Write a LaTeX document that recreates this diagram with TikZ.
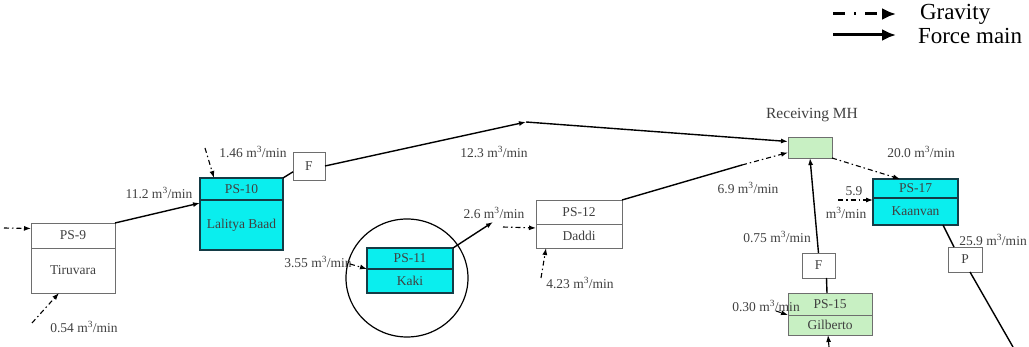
\documentclass[tikz,border=0pt]{standalone}
\usepackage{fontspec}
\setmainfont{Liberation Serif}
\usetikzlibrary{arrows.meta,calc,shapes.geometric}
\definecolor{psCyan}{RGB}{10,238,238}
\definecolor{psGreen}{RGB}{200,240,195}
\definecolor{boxGray}{RGB}{110,110,110}
\definecolor{cyanEdge}{RGB}{20,60,70}
\tikzset{
  every node/.style={inner sep=0pt, outer sep=0pt},
  lbl/.style={font=\fontsize{13.5}{14}\selectfont, text=black!75},
  cell/.style={draw=boxGray, line width=0.9pt, font=\fontsize{13.5}{14}\selectfont, text=black!75, minimum width=#1pt},
  cyancell/.style={cell=#1, fill=psCyan, draw=cyanEdge, line width=1.4pt},
  greencell/.style={cell=#1, fill=psGreen},
  fbox/.style={draw=boxGray, line width=0.9pt, fill=white, font=\fontsize{13.5}{14}\selectfont, text=black!75},
  forcemain/.style={line width=1.4pt, -{Latex[length=7pt,width=5pt]}},
  forceline/.style={line width=1.4pt},
  gravity/.style={line width=1.1pt, dash pattern=on 5pt off 3pt on 1.5pt off 3pt, -{Latex[length=7pt,width=5pt]}},
  legendtext/.style={font=\fontsize{23}{25}\selectfont, anchor=west},
  legendgrav/.style={line width=3pt, dash pattern=on 12pt off 9pt on 2pt off 9pt, -{Latex[length=14pt,width=12pt]}},
  legendforce/.style={line width=3pt, -{Latex[length=14pt,width=12pt]}},
}
\begin{document}
\begin{tikzpicture}[x=1pt,y=-1pt]
\useasboundingbox (0,0) rectangle (1029,347);

% legend
\node[legendtext] (lgg) at (920,14) {Gravity};
\node[legendtext] (lgf) at (918,36) {Force main};
\coordinate (ga1) at (833,14);
\coordinate (fa1) at (833,35);
\draw[legendgrav] (ga1) -- ($(lgg.west)+(-24,0)$);
\draw[legendforce] (fa1) -- ($(lgf.west)+(-22,-1)$);

% boxes
\node[cell=84, minimum height=25pt] (ps9t) at (73,235.5) {PS-9};
\node[cell=84, minimum height=45pt] (ps9b) at (73,270.5) {Tiruvara};
\node[cyancell=83, minimum height=22pt] (ps10t) at (241.5,189) {PS-10};
\node[cyancell=83, minimum height=50pt] (ps10b) at (241.5,225) {Lalitya Baad};
\node[cyancell=86, minimum height=21pt] (ps11t) at (410,258.5) {PS-11};
\node[cyancell=86, minimum height=24pt] (ps11b) at (410,281) {Kaki};
\node[cell=86, minimum height=24pt] (ps12t) at (579,212) {PS-12};
\node[cell=86, minimum height=24pt] (ps12b) at (579,236) {Daddi};
\node[cyancell=85, minimum height=19pt] (ps17t) at (915.5,188.5) {PS-17};
\node[cyancell=85, minimum height=27pt] (ps17b) at (915.5,211.5) {Kaanvan};
\node[greencell=84, minimum height=22pt] (ps15t) at (830,304) {PS-15};
\node[greencell=84, minimum height=20pt] (ps15b) at (830,325) {Gilberto};
\node[greencell=44, minimum height=21pt] (mh) at (810,147.5) {};
\node[fbox, minimum width=32pt, minimum height=28pt] (f1) at (309,166) {F};
\node[fbox, minimum width=33pt, minimum height=25pt] (f2) at (818.5,265.5) {F};
\node[fbox, minimum width=34pt, minimum height=25pt] (p) at (965,259.5) {P};

\node[ellipse, draw, line width=1.2pt, minimum width=122pt, minimum height=118pt] (circ) at (407,278) {};

% labels
\node[lbl, font=\fontsize{15.5}{16}\selectfont] (l1) at (812,115) {Receiving MH};
\node[lbl] (l2) at (159,193) {11.2 m\textsuperscript{3}/min};
\node[lbl] (l3) at (253,152) {1.46 m\textsuperscript{3}/min};
\node[lbl] (l4) at (494,152) {12.3 m\textsuperscript{3}/min};
\node[lbl] (l5) at (84,327) {0.54 m\textsuperscript{3}/min};
\node[lbl] (l6) at (318,262) {3.55 m\textsuperscript{3}/min};
\node[lbl] (l7) at (494,213) {2.6 m\textsuperscript{3}/min};
\node[lbl] (l8) at (580,283) {4.23 m\textsuperscript{3}/min};
\node[lbl] (l9) at (748,188) {6.9 m\textsuperscript{3}/min};
\node[lbl] (l10) at (921,152) {20.0 m\textsuperscript{3}/min};
\node[lbl] (l11a) at (854,191) {5.9};
\node[lbl] (l11b) at (846,213) {m\textsuperscript{3}/min};
\node[lbl] (l12) at (993,240) {25.9 m\textsuperscript{3}/min};
\node[lbl] (l13) at (777,237) {0.75 m\textsuperscript{3}/min};
\node[lbl] (l14) at (766,306) {0.30 m\textsuperscript{3}/min};

% connectors
\coordinate (in9) at (4,228);
\draw[gravity] (in9) -- ($(ps9t.west)+(0,-7)$);
\coordinate (b9) at (32,323);
\draw[gravity] (b9) -- ($(ps9b.south)+(-14,0)$);
\draw[forcemain] (ps9t.north east) -- ($(ps10b.north west)+(0,3)$);
\coordinate (in10) at (205,148);
\draw[gravity] (in10) -- ($(ps10t.north west)+(14,0)$);
\draw[forceline] (ps10t.north east) -- (f1.200);
\coordinate (j1) at (526,122);
\draw[forcemain] (f1.east) -- (j1);
\draw[forcemain] (j1) -- ($(mh.west)+(0,-6)$);
\coordinate (in11) at (350,264);
\draw[gravity] (in11) -- (ps11t.south west);
\coordinate (k1) at (493,222);
\draw[forcemain] (ps11t.north east) -- (k1);
\coordinate (k2) at (503,227);
\draw[gravity] (k2) -- ($(ps12b.north west)+(0,4)$);
\coordinate (b12) at (541,278);
\draw[gravity] (b12) -- ($(ps12b.south west)+(10,0)$);
\coordinate (m1) at (742,165);
\draw[forceline] (ps12t.north east) -- (m1);
\draw[gravity] (m1) -- ($(mh.west)+(0,5)$);
\draw[gravity] (mh.south east) -- ($(ps17t.north west)+(27,0)$);
\coordinate (in17) at (838,200);
\draw[gravity] (in17) -- ($(ps17b.north west)+(0,2)$);
\draw[forceline] ($(ps17b.south east)+(-15,0)$) -- ($(p.north west)+(6,0)$);
\coordinate (out) at (1013,347);
\draw[forceline] ($(p.south west)+(22,0)$) -- (out);
\draw[forcemain] (f2.north) -- (mh.south);
\draw[forceline] ($(ps15t.north)+(-3,0)$) -- ($(f2.south)+(8,0)$);
\coordinate (in15) at (776,311);
\draw[gravity] (in15) -- (ps15t.south west);
\coordinate (b15) at (829,347);
\draw[gravity] (b15) -- ($(ps15b.south)+(-2,0)$);
\end{tikzpicture}
\end{document}
